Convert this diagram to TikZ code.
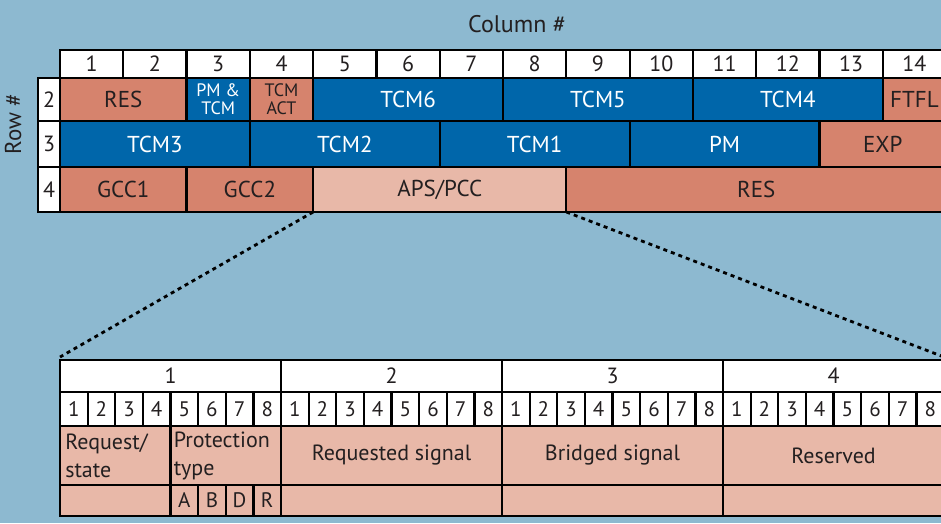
\documentclass[tikz,border=0pt]{standalone}
\usepackage{fontspec}
\setmainfont{PT Sans}
\usepackage{tikz}
\definecolor{bgblue}{RGB}{141,185,208}
\definecolor{ohblue}{RGB}{0,102,170}
\definecolor{ohred}{RGB}{214,131,109}
\definecolor{ohpink}{RGB}{232,184,168}
\definecolor{ohtext}{RGB}{35,31,32}
\tikzset{
  field/.style={rectangle, draw=black, line width=2.2pt, inner sep=0pt, outer sep=0pt,
                anchor=north west, align=center, text=ohtext, font=\fontsize{23}{23}\selectfont},
  hdr/.style={field, fill=white, font=\fontsize{22}{22}\selectfont},
  bithdr/.style={field, fill=white, font=\fontsize{21}{21}\selectfont},
  bluefield/.style={fill=ohblue, text=white},
  redfield/.style={fill=ohred},
  pinkfield/.style={fill=ohpink},
  smalltext/.style={font=\fontsize{18}{18}\selectfont},
  bottext/.style={font=\fontsize{22}{28}\selectfont},
  zoomline/.style={line width=2.8pt, dash pattern=on 4pt off 4pt},
}
% one field of the frame overhead: name, first column, columns, top, height, style, text
\newcommand{\topfield}[7]{%
  \node[field, #6, minimum width={#3*63.29pt}, minimum height=#5pt] (#1) at ({60+(#2-1)*63.29},#4) {#7};}
% one field of the APS/PCC bytes: name, byte, first bit, bits, top, height, style, text
\newcommand{\bitfield}[8]{%
  \node[field, #7, minimum width={#4*27.63pt}, minimum height=#6pt] (#1) at ({60+(#2-1)*221+(#3-1)*27.63},#5) {#8};}

\begin{document}
\begin{tikzpicture}[x=1pt, y=-1pt]
\fill[bgblue] (0,0) rectangle (941,523);
\clip (0,0) rectangle (941,523);

%Titles
\node[font=\fontsize{24}{24}\selectfont, text=ohtext] (coltitle) at (517,24) {Column \#};
\node[font=\fontsize{23}{23}\selectfont, text=ohtext, rotate=90] (rowtitle) at (13,124) {Row \#};

%Column and row numbers
\foreach \c in {1,...,14}
  \node[hdr, minimum width=63.29pt, minimum height=28pt] (col\c) at ({60+(\c-1)*63.29},50) {\c};
\node[hdr, minimum width=22pt, minimum height=43pt] (row2) at (38,78) {2};
\node[hdr, minimum width=22pt, minimum height=46pt] (row3) at (38,121) {3};
\node[hdr, minimum width=22pt, minimum height=45pt] (row4) at (38,167) {4};

%Row 2
\topfield{res}{1}{2}{78}{43}{redfield}{RES}
\topfield{pmtcm}{3}{1}{78}{43}{bluefield, smalltext}{PM \&\\TCM}
\topfield{tcmact}{4}{1}{78}{43}{redfield, smalltext}{TCM\\ACT}
\topfield{tcm6}{5}{3}{78}{43}{bluefield}{TCM6}
\topfield{tcm5}{8}{3}{78}{43}{bluefield}{TCM5}
\topfield{tcm4}{11}{3}{78}{43}{bluefield}{TCM4}
\topfield{ftfl}{14}{1}{78}{43}{redfield}{FTFL}

%Row 3
\topfield{tcm3}{1}{3}{121}{46}{bluefield}{TCM3}
\topfield{tcm2}{4}{3}{121}{46}{bluefield}{TCM2}
\topfield{tcm1}{7}{3}{121}{46}{bluefield}{TCM1}
\topfield{pm}{10}{3}{121}{46}{bluefield}{PM}
\topfield{exp}{13}{2}{121}{46}{redfield}{EXP}

%Row 4
\topfield{gcc1}{1}{2}{167}{45}{redfield}{GCC1}
\topfield{gcc2}{3}{2}{167}{45}{redfield}{GCC2}
\topfield{apspcc}{5}{4}{167}{45}{pinkfield}{APS/PCC}
\topfield{res4}{9}{6}{167}{45}{redfield}{RES}

%APS/PCC bytes
\foreach \b in {1,...,4} {
  \node[hdr, minimum width=221pt, minimum height=32pt] (byte\b) at ({60+(\b-1)*221},360) {\b};
  \foreach \i in {1,...,8}
    \node[bithdr, minimum width=27.63pt, minimum height=34pt] (bit\b-\i) at ({60+(\b-1)*221+(\i-1)*27.63},392) {\i};
}
\bitfield{reqstate}{1}{1}{4}{426}{59}{pinkfield, bottext, text width=100pt, align=left}{Request/\\state}
\bitfield{prottype}{1}{5}{4}{426}{59}{pinkfield, bottext, text width=104pt, align=left}{Protection\\type}
\bitfield{reqsig}{2}{1}{8}{426}{59}{pinkfield, bottext}{Requested signal}
\bitfield{brsig}{3}{1}{8}{426}{59}{pinkfield, bottext}{Bridged signal}
\bitfield{reserved}{4}{1}{8}{426}{59}{pinkfield, bottext}{Reserved}
\bitfield{spare}{1}{1}{4}{485}{31}{pinkfield}{}
\bitfield{bitA}{1}{5}{1}{485}{31}{pinkfield, bithdr, fill=ohpink}{A}
\bitfield{bitB}{1}{6}{1}{485}{31}{pinkfield, bithdr, fill=ohpink}{B}
\bitfield{bitD}{1}{7}{1}{485}{31}{pinkfield, bithdr, fill=ohpink}{D}
\bitfield{bitR}{1}{8}{1}{485}{31}{pinkfield, bithdr, fill=ohpink}{R}
\bitfield{spare2}{2}{1}{8}{485}{31}{pinkfield}{}
\bitfield{spare3}{3}{1}{8}{485}{31}{pinkfield}{}
\bitfield{spare4}{4}{1}{8}{485}{31}{pinkfield}{}

%Zoom lines
\draw[zoomline] (apspcc.south west) -- ([yshift=3pt]byte1.north west);
\draw[zoomline] (apspcc.south east) -- ([yshift=3pt]byte4.north east);
\end{tikzpicture}
\end{document}
